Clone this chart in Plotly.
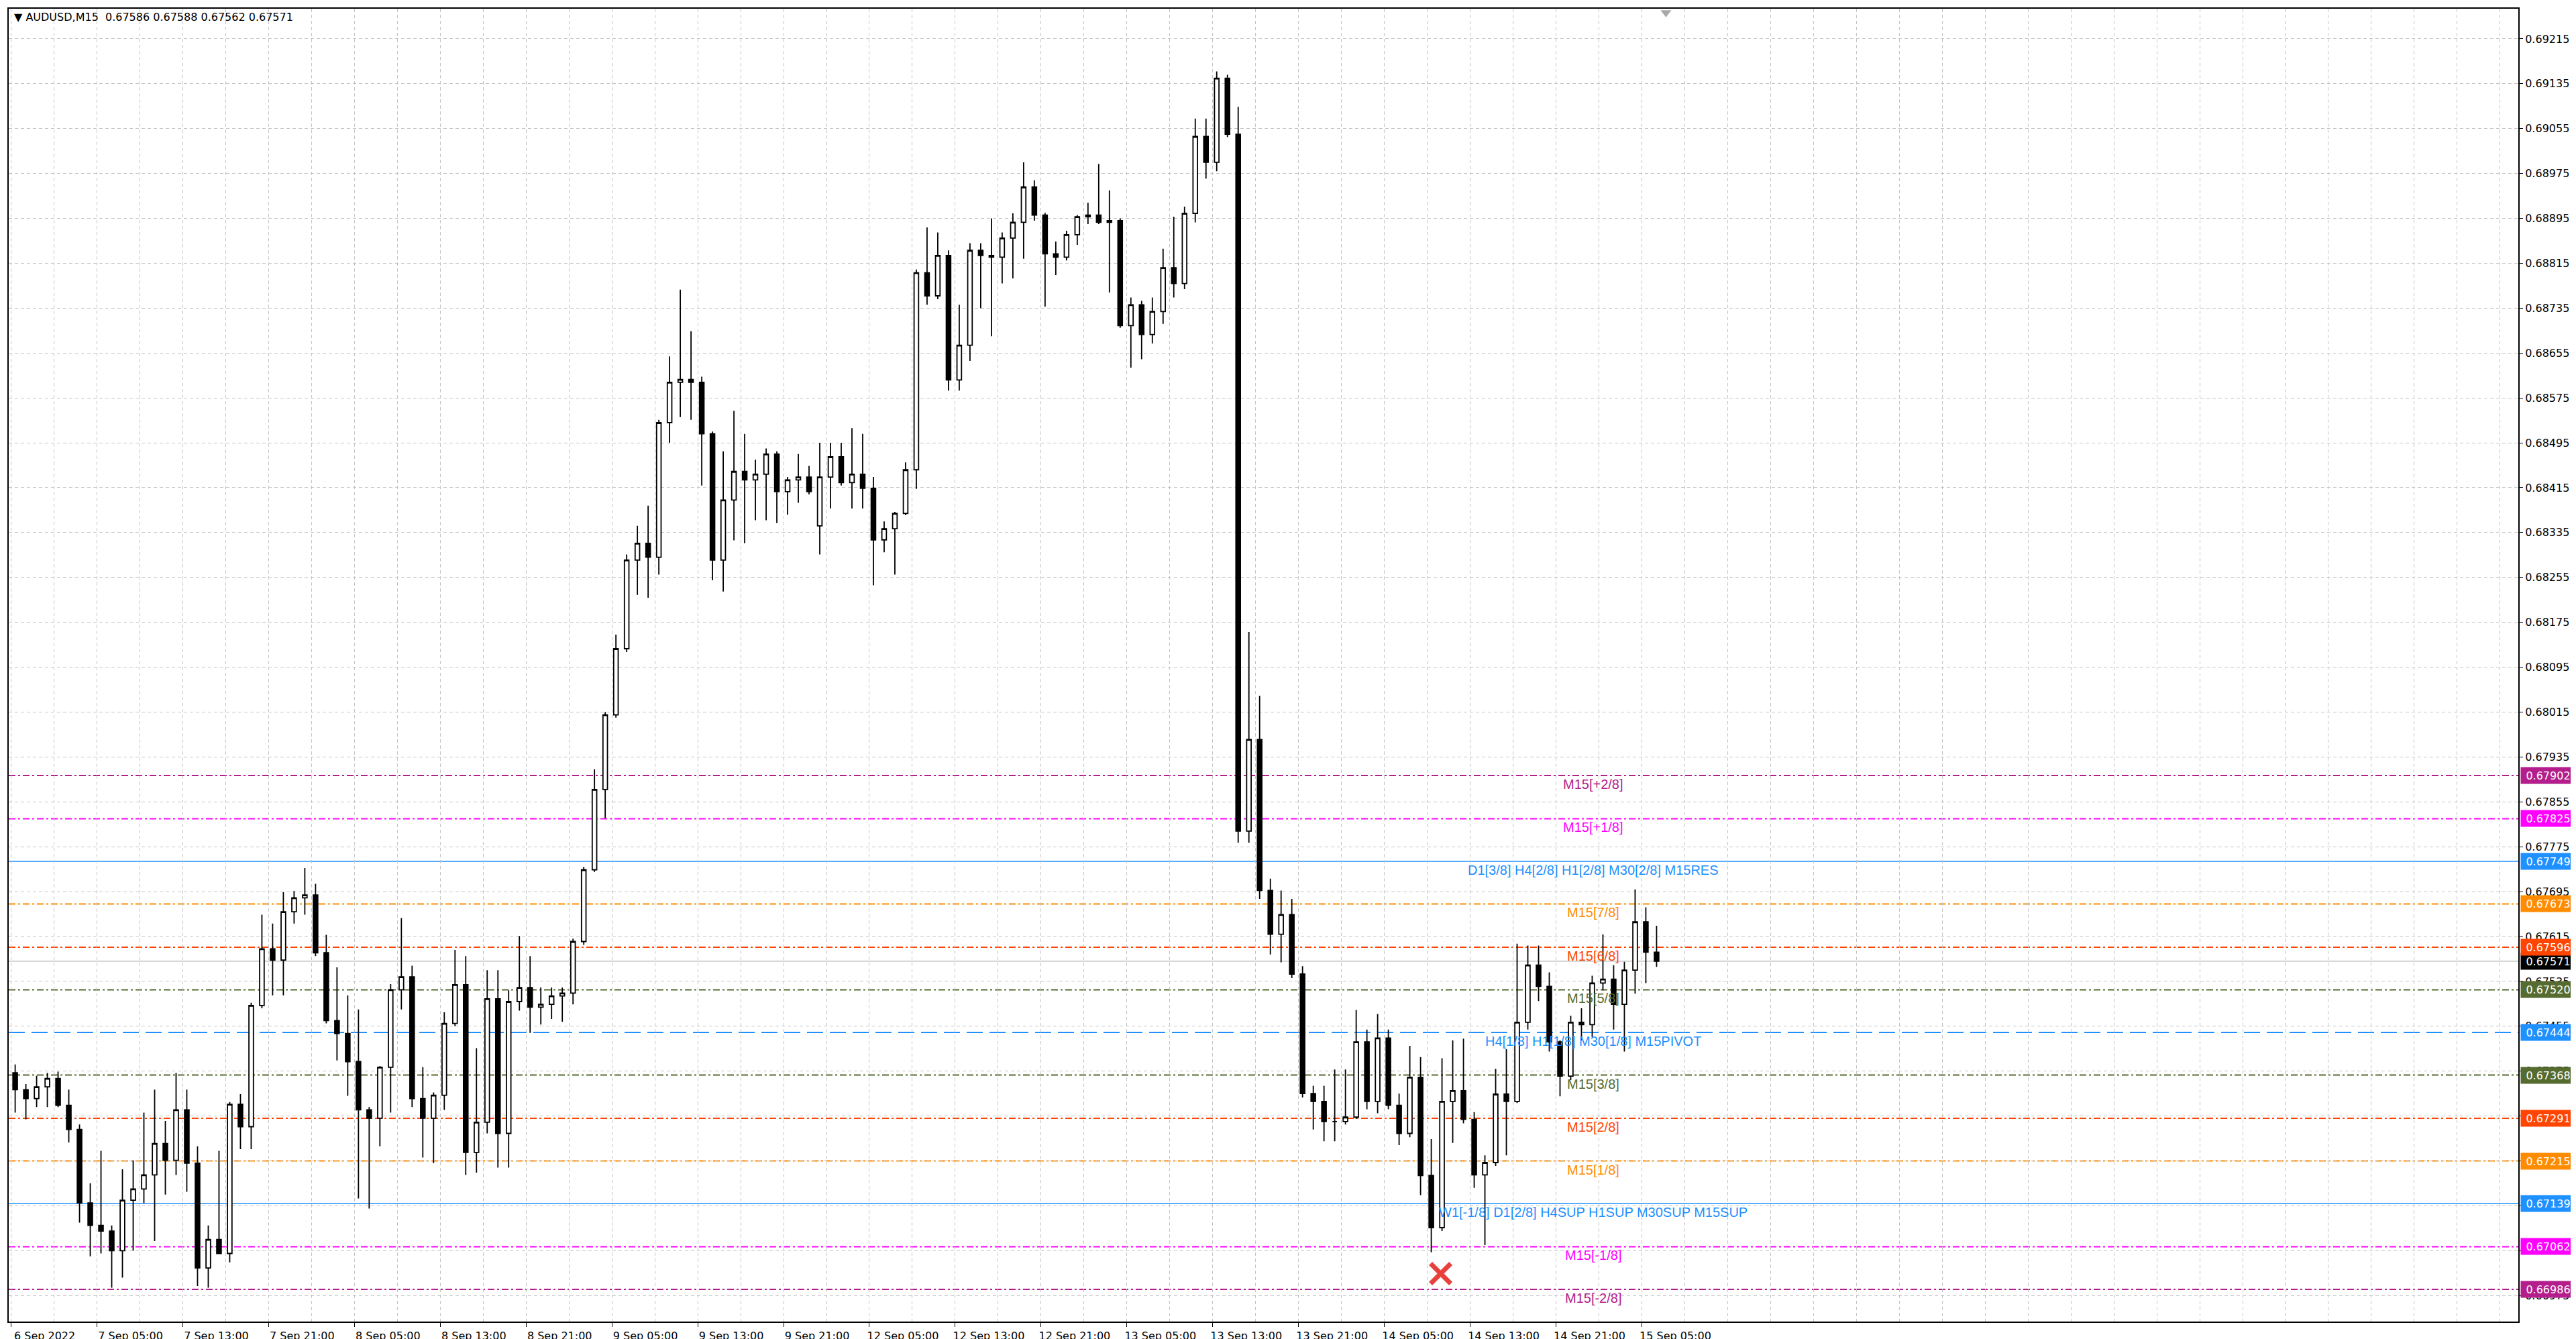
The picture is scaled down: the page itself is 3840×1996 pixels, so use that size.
import plotly.graph_objects as go

# AUDUSD M15 chart, read back as H1 candles (index in M15 bars, 4 per candle)
opens = [0.67372, 0.67342, 0.67326, 0.67347, 0.67362, 0.67314, 0.67271, 0.67140, 0.67100, 0.67090,
         0.67055, 0.67145, 0.67165, 0.67190, 0.67246, 0.67216, 0.67306, 0.67211, 0.67024, 0.67075,
         0.67050, 0.67316, 0.67276, 0.67492, 0.67593, 0.67573, 0.67659, 0.67684, 0.67689, 0.67586,
         0.67465, 0.67442, 0.67392, 0.67306, 0.67291, 0.67382, 0.67520, 0.67543, 0.67326, 0.67291,
         0.67332, 0.67460, 0.67529, 0.67230, 0.67284, 0.67504, 0.67264, 0.67499, 0.67524, 0.67489,
         0.67494, 0.67509, 0.67514, 0.67606, 0.67734, 0.67877, 0.68010, 0.68128, 0.68286, 0.68316,
         0.68291, 0.68531, 0.68603, 0.68608, 0.68603, 0.68511, 0.68286, 0.68393, 0.68444, 0.68429,
         0.68439, 0.68475, 0.68408, 0.68429, 0.68434, 0.68347, 0.68434, 0.68470, 0.68424, 0.68439,
         0.68414, 0.68322, 0.68342, 0.68369, 0.68447, 0.68798, 0.68757, 0.68829, 0.68607, 0.68669,
         0.68838, 0.68829, 0.68826, 0.68860, 0.68888, 0.68951, 0.68901, 0.68832, 0.68826, 0.68866,
         0.68898, 0.68901, 0.68888, 0.68891, 0.68704, 0.68741, 0.68688, 0.68729, 0.68807, 0.68779,
         0.68904, 0.69041, 0.68995, 0.69145, 0.69045, 0.67803, 0.67966, 0.67697, 0.67619, 0.67654,
         0.67548, 0.67335, 0.67321, 0.67285, 0.67285, 0.67293, 0.67427, 0.67321, 0.67434, 0.67314,
         0.67264, 0.67364, 0.67189, 0.67096, 0.67321, 0.67340, 0.67289, 0.67190, 0.67212, 0.67334,
         0.67321, 0.67462, 0.67564, 0.67526, 0.67427, 0.67366, 0.67462, 0.67458, 0.67532, 0.67539,
         0.67494, 0.67555, 0.67641, 0.67587]
highs = [0.67387, 0.67352, 0.67367, 0.67372, 0.67374, 0.67342, 0.67280, 0.67175, 0.67233, 0.67100,
         0.67200, 0.67216, 0.67301, 0.67342, 0.67286, 0.67372, 0.67342, 0.67241, 0.67100, 0.67233,
         0.67320, 0.67334, 0.67497, 0.67654, 0.67638, 0.67694, 0.67696, 0.67737, 0.67709, 0.67618,
         0.67560, 0.67510, 0.67485, 0.67311, 0.67384, 0.67530, 0.67648, 0.67563, 0.67382, 0.67337,
         0.67480, 0.67591, 0.67580, 0.67416, 0.67555, 0.67555, 0.67519, 0.67616, 0.67580, 0.67524,
         0.67524, 0.67524, 0.67611, 0.67739, 0.67913, 0.68015, 0.68153, 0.68296, 0.68347, 0.68383,
         0.68536, 0.68649, 0.68768, 0.68694, 0.68613, 0.68515, 0.68480, 0.68552, 0.68511, 0.68465,
         0.68485, 0.68480, 0.68434, 0.68475, 0.68454, 0.68495, 0.68495, 0.68495, 0.68521, 0.68511,
         0.68434, 0.68355, 0.68372, 0.68460, 0.68804, 0.68879, 0.68870, 0.68838, 0.68741, 0.68851,
         0.68851, 0.68895, 0.68870, 0.68904, 0.68995, 0.68963, 0.68905, 0.68854, 0.68873, 0.68901,
         0.68923, 0.68992, 0.68945, 0.68895, 0.68754, 0.68748, 0.68754, 0.68841, 0.68898, 0.68916,
         0.69073, 0.69073, 0.69157, 0.69151, 0.69094, 0.68158, 0.68044, 0.67718, 0.67697, 0.67682,
         0.67562, 0.67349, 0.67349, 0.67378, 0.67378, 0.67484, 0.67449, 0.67477, 0.67449, 0.67335,
         0.67420, 0.67400, 0.67254, 0.67398, 0.67430, 0.67433, 0.67302, 0.67225, 0.67379, 0.67414,
         0.67602, 0.67599, 0.67599, 0.67551, 0.67430, 0.67474, 0.67487, 0.67545, 0.67619, 0.67564,
         0.67570, 0.67699, 0.67667, 0.67634]
lows = [0.67301, 0.67289, 0.67311, 0.67311, 0.67311, 0.67248, 0.67105, 0.67045, 0.67050, 0.66989,
        0.67007, 0.67055, 0.67140, 0.67072, 0.67155, 0.67190, 0.67160, 0.66992, 0.66989, 0.67050,
        0.67034, 0.67236, 0.67236, 0.67487, 0.67510, 0.67510, 0.67638, 0.67654, 0.67580, 0.67460,
        0.67394, 0.67331, 0.67148, 0.67130, 0.67241, 0.67301, 0.67485, 0.67311, 0.67221, 0.67211,
        0.67306, 0.67455, 0.67190, 0.67194, 0.67264, 0.67203, 0.67203, 0.67483, 0.67443, 0.67458,
        0.67468, 0.67463, 0.67494, 0.67600, 0.67730, 0.67826, 0.68005, 0.68122, 0.68224, 0.68219,
        0.68260, 0.68495, 0.68541, 0.68536, 0.68419, 0.68250, 0.68230, 0.68321, 0.68316, 0.68357,
        0.68357, 0.68352, 0.68367, 0.68388, 0.68403, 0.68296, 0.68378, 0.68419, 0.68378, 0.68378,
        0.68241, 0.68300, 0.68260, 0.68366, 0.68413, 0.68741, 0.68751, 0.68588, 0.68588, 0.68641,
        0.68735, 0.68685, 0.68779, 0.68788, 0.68823, 0.68891, 0.68738, 0.68794, 0.68820, 0.68848,
        0.68885, 0.68885, 0.68763, 0.68700, 0.68629, 0.68644, 0.68672, 0.68707, 0.68754, 0.68769,
        0.68888, 0.68966, 0.68979, 0.69040, 0.67782, 0.67782, 0.67682, 0.67583, 0.67569, 0.67541,
        0.67328, 0.67271, 0.67250, 0.67250, 0.67280, 0.67290, 0.67307, 0.67300, 0.67307, 0.67243,
        0.67257, 0.67154, 0.67052, 0.67090, 0.67247, 0.67282, 0.67167, 0.67065, 0.67206, 0.67225,
        0.67318, 0.67449, 0.67500, 0.67410, 0.67330, 0.67359, 0.67430, 0.67436, 0.67519, 0.67449,
        0.67410, 0.67513, 0.67532, 0.67561]
closes = [0.67342, 0.67326, 0.67347, 0.67362, 0.67314, 0.67271, 0.67140, 0.67100, 0.67090, 0.67055,
          0.67145, 0.67165, 0.67190, 0.67246, 0.67216, 0.67306, 0.67211, 0.67024, 0.67075, 0.67050,
          0.67316, 0.67276, 0.67492, 0.67593, 0.67573, 0.67659, 0.67684, 0.67689, 0.67586, 0.67465,
          0.67442, 0.67392, 0.67306, 0.67291, 0.67382, 0.67520, 0.67543, 0.67326, 0.67291, 0.67332,
          0.67460, 0.67529, 0.67230, 0.67284, 0.67504, 0.67264, 0.67499, 0.67524, 0.67489, 0.67494,
          0.67509, 0.67514, 0.67606, 0.67734, 0.67877, 0.68010, 0.68128, 0.68286, 0.68316, 0.68291,
          0.68531, 0.68603, 0.68608, 0.68603, 0.68511, 0.68286, 0.68393, 0.68444, 0.68429, 0.68439,
          0.68475, 0.68408, 0.68429, 0.68434, 0.68408, 0.68434, 0.68470, 0.68424, 0.68439, 0.68414,
          0.68322, 0.68342, 0.68369, 0.68447, 0.68798, 0.68757, 0.68829, 0.68607, 0.68669, 0.68838,
          0.68829, 0.68826, 0.68860, 0.68888, 0.68951, 0.68901, 0.68832, 0.68826, 0.68866, 0.68898,
          0.68901, 0.68888, 0.68891, 0.68704, 0.68741, 0.68688, 0.68729, 0.68807, 0.68779, 0.68904,
          0.69041, 0.68995, 0.69145, 0.69045, 0.67803, 0.67966, 0.67697, 0.67619, 0.67654, 0.67548,
          0.67335, 0.67321, 0.67285, 0.67285, 0.67293, 0.67427, 0.67321, 0.67434, 0.67314, 0.67264,
          0.67364, 0.67189, 0.67096, 0.67321, 0.67340, 0.67289, 0.67190, 0.67212, 0.67334, 0.67321,
          0.67462, 0.67564, 0.67526, 0.67427, 0.67366, 0.67462, 0.67458, 0.67532, 0.67539, 0.67494,
          0.67555, 0.67641, 0.67587, 0.67571]

time_labels = ["6 Sep 2022", "7 Sep 05:00", "7 Sep 13:00", "7 Sep 21:00", "8 Sep 05:00",
               "8 Sep 13:00", "8 Sep 21:00", "9 Sep 05:00", "9 Sep 13:00", "9 Sep 21:00",
               "12 Sep 05:00", "12 Sep 13:00", "12 Sep 21:00", "13 Sep 05:00", "13 Sep 13:00",
               "13 Sep 21:00", "14 Sep 05:00", "14 Sep 13:00", "14 Sep 21:00", "15 Sep 05:00"]

# murrey style levels: price, label, colour, dash
level_prices = [0.67902, 0.67825, 0.67749, 0.67673, 0.67596, 0.67520, 0.67444,
                0.67368, 0.67291, 0.67215, 0.67139, 0.67062, 0.66986]
level_names = ["M15[+2/8]", "M15[+1/8]", "D1[3/8] H4[2/8] H1[2/8] M30[2/8] M15RES",
               "M15[7/8]", "M15[6/8]", "M15[5/8]", "H4[1/8] H1[1/8] M30[1/8] M15PIVOT",
               "M15[3/8]", "M15[2/8]", "M15[1/8]", "W1[-1/8] D1[2/8] H4SUP H1SUP M30SUP M15SUP",
               "M15[-1/8]", "M15[-2/8]"]
level_colors = ["#B41E8C", "#FF00FF", "#1E90FF", "#FF8C00", "#FF4500", "#556B2F", "#1E90FF",
                "#556B2F", "#FF4500", "#FF8C00", "#1E90FF", "#FF00FF", "#B41E8C"]
level_styles = ["dashdot", "dashdot", "solid", "dashdot", "dashdot", "dashdot", "longdash",
                "dashdot", "dashdot", "dashdot", "solid", "dashdot", "dashdot"]

bid_price = 0.67571
title_text = "AUDUSD,M15\u00a0\u00a00.67586 0.67588 0.67562 0.67571"
signal_bar = 533
signal_price = 0.67014

x_pos = [4 * k + 1.5 for k in range(len(closes))]

fig = go.Figure()

fig.add_trace(go.Candlestick(
    x=x_pos, open=opens, high=highs, low=lows, close=closes,
    increasing=dict(line=dict(color="black", width=1.8), fillcolor="white"),
    decreasing=dict(line=dict(color="black", width=1.8), fillcolor="black"),
    whiskerwidth=0, hoverinfo="skip", showlegend=False,
))

# red cross
fig.add_trace(go.Scatter(
    x=[signal_bar], y=[signal_price], mode="markers",
    marker=dict(symbol="x-thin", size=30, color="#E8413C", line=dict(color="#E8413C", width=7)),
    showlegend=False, hoverinfo="skip",
))

# chart shift marker at the top
fig.add_trace(go.Scatter(
    x=[617], y=[0.69262], mode="markers",
    marker=dict(symbol="triangle-down", size=14, color="#A8A8A8"),
    showlegend=False, hoverinfo="skip", cliponaxis=False,
))

dash_map = {"dashdot": "10px,4px,3px,4px", "solid": "solid", "longdash": "24px,10px"}

for p, name, c, st in zip(level_prices, level_names, level_colors, level_styles):
    fig.add_shape(type="line", xref="paper", x0=0, x1=1, yref="y", y0=p, y1=p,
                  line=dict(color=c, width=2 if st != "solid" else 1.5, dash=dash_map[st]),
                  layer="below")
    fig.add_annotation(x=589.8, y=p, text=name, showarrow=False, xanchor="center",
                       yanchor="middle", yshift=-13,
                       font=dict(family="Liberation Sans, Arial", size=20, color=c))

# bid line
fig.add_shape(type="line", xref="paper", x0=0, x1=1, yref="y", y0=bid_price, y1=bid_price,
              line=dict(color="#C0C0C0", width=1.5), layer="below")

# price boxes on the right axis (bid first so 6/8 box sits on top)
box_prices = [bid_price] + level_prices
box_colors = ["black"] + level_colors
for p, c in zip(box_prices, box_colors):
    fig.add_annotation(xref="paper", x=1, xanchor="left", xshift=3, y=p, yanchor="middle",
                       text=f"{p:.5f}", showarrow=False, bgcolor=c, width=79, height=22,
                       font=dict(family="DejaVu Sans", size=16, color="white"))

fig.add_annotation(xref="paper", yref="paper", x=0, y=1, xanchor="left", yanchor="top",
                   xshift=6, yshift=-1, showarrow=False, text="\u25bc " + title_text,
                   font=dict(family="DejaVu Sans", size=16, color="black"))

grid = dict(showgrid=True, gridcolor="#C4C4C4", gridwidth=1, griddash="5px,4px")

fig.update_layout(
    width=3840, height=1996,
    margin=dict(l=3, r=94, t=5, b=34),
    paper_bgcolor="white", plot_bgcolor="white",
    boxgap=0.4,
    xaxis=dict(
        range=[-0.9, 934.8], rangeslider=dict(visible=False),
        tickmode="array", tickvals=[32 * j for j in range(len(time_labels))], ticktext=time_labels,
        ticks="outside", ticklen=6, tickcolor="black", ticklabelshift=50,
        tickfont=dict(family="DejaVu Sans", size=16, color="black"),
        showline=True, linecolor="black", linewidth=2, mirror=True, zeroline=False,
        minor=dict(tickmode="linear", tick0=0, dtick=16, ticklen=0, **grid),
        **grid,
    ),
    yaxis=dict(
        range=[0.669286, 0.692688], side="right",
        tickmode="array", tickvals=[round(0.66975 + 0.0008 * j, 5) for j in range(29)],
        tickformat=".5f", ticks="outside", ticklen=5, tickcolor="black",
        tickfont=dict(family="DejaVu Sans", size=16, color="black"),
        showline=True, linecolor="black", linewidth=2, mirror=True, zeroline=False,
        **grid,
    ),
)

fig.write_html("out.html")
